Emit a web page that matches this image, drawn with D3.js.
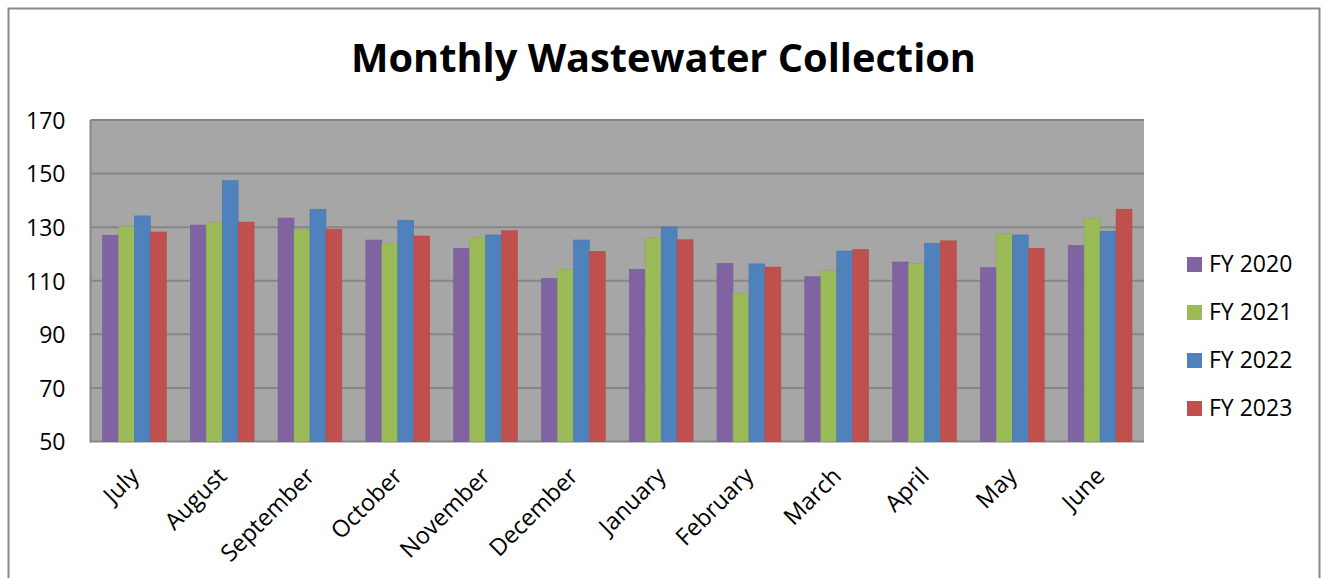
<!DOCTYPE html>
<html>
<head>
<meta charset="utf-8">
<script src="https://cdn.jsdelivr.net/npm/d3@7"></script>
<style>
  body { margin: 0; background: #fff; }
  text { font-family: "Open Sans", sans-serif; fill: #000; }
</style>
</head>
<body>
<svg id="chart" width="1325" height="578"></svg>
<script>
// chart data
var months = ['July', 'August', 'September', 'October', 'November', 'December',
  'January', 'February', 'March', 'April', 'May', 'June'];
var seriesNames = ['FY 2020', 'FY 2021', 'FY 2022', 'FY 2023'];
var fy2020 = [127.0, 130.8, 133.4, 125.2, 122.1, 110.9, 114.3, 116.5, 111.5, 117.0, 114.9, 123.2];
var fy2021 = [130.3, 131.7, 129.0, 124.0, 126.1, 114.3, 126.0, 105.3, 113.8, 116.5, 127.6, 133.3];
var fy2022 = [134.2, 147.4, 136.7, 132.6, 127.1, 125.2, 130.1, 116.3, 121.1, 124.0, 127.1, 128.5];
var fy2023 = [128.2, 131.9, 129.2, 126.7, 128.7, 121.0, 125.3, 115.1, 121.7, 124.9, 122.1, 136.7];
var yTicks = [50, 70, 90, 110, 130, 150, 170];
var colors = ['#8064a2', '#9bbb59', '#4f81bd', '#c0504d'];

var allSeries = [fy2020, fy2021, fy2022, fy2023];

var svg = d3.select('#chart');

// outer chart border (bottom edge falls off the picture)
svg.append('path')
  .attr('d', 'M8.5,580 V8.5 H1319.5 V580')
  .attr('fill', 'none')
  .attr('stroke', '#898989')
  .attr('stroke-width', 2);

var plot = { left: 90.5, right: 1144, top: 120, bottom: 441.5 };

var x = d3.scaleBand().domain(months).range([plot.left, plot.right]);
// excel-style gap width 150%: 4 bars + 1.5 bar gap per category
var barW = x.bandwidth() / 5.5;
var y = d3.scaleLinear().domain([50, 170]).range([plot.bottom, plot.top]);

svg.append('rect')
  .attr('x', plot.left).attr('y', plot.top)
  .attr('width', plot.right - plot.left).attr('height', plot.bottom - plot.top)
  .attr('fill', '#a6a6a6');

// gridlines
svg.append('g').selectAll('line')
  .data(yTicks)
  .join('line')
  .attr('x1', plot.left).attr('x2', plot.right)
  .attr('y1', function(d) { return y(d); })
  .attr('y2', function(d) { return y(d); })
  .attr('stroke', '#868686')
  .attr('stroke-width', 2);

// bars
allSeries.forEach(function(vals, si) {
  svg.append('g').selectAll('rect')
    .data(vals)
    .join('rect')
    .attr('x', function(d, i) { return x(months[i]) + barW * 0.75 + si * barW; })
    .attr('y', function(d) { return y(d); })
    .attr('width', barW)
    .attr('height', function(d) { return plot.bottom - y(d); })
    .attr('fill', colors[si])
    .attr('stroke', d3.color(colors[si]).darker(0.3))
    .attr('stroke-width', 0.5);
});

// left axis line
svg.append('line')
  .attr('x1', plot.left).attr('x2', plot.left)
  .attr('y1', plot.top).attr('y2', plot.bottom + 1)
  .attr('stroke', '#868686').attr('stroke-width', 2);

// y axis labels
var yAxis = d3.axisLeft(y).tickValues(yTicks).tickSize(0).tickPadding(25);
var yg = svg.append('g').attr('transform', 'translate(' + plot.left + ',0)').call(yAxis);
yg.select('.domain').remove();
yg.selectAll('text')
  .attr('font-family', '"Open Sans", sans-serif')
  .attr('font-size', 23)
  .attr('fill', '#000')
  .attr('dy', '0.36em');

// x axis labels, rotated
var xAxis = d3.axisBottom(x).tickSize(0).tickPadding(0);
var xg = svg.append('g').attr('transform', 'translate(0,' + plot.bottom + ')').call(xAxis);
xg.select('.domain').remove();
xg.selectAll('text')
  .attr('font-family', '"Open Sans", sans-serif')
  .attr('font-size', 23.5)
  .attr('fill', '#000')
  .attr('text-anchor', 'end')
  .attr('y', 0).attr('dy', 0)
  .attr('transform', 'translate(6,36) rotate(-45)');

// title, fitted to the reference width
var title = svg.append('text')
  .attr('x', 663.5).attr('y', 72)
  .attr('text-anchor', 'middle')
  .attr('font-weight', 'bold')
  .attr('font-size', 42)
  .text('Monthly Wastewater Collection');
var tw = title.node().getComputedTextLength();
title.attr('font-size', 42 * 625 / tw);

// legend
var legend = svg.append('g').selectAll('g')
  .data(seriesNames)
  .join('g')
  .attr('transform', function(d, i) { return 'translate(1187,' + (264 + i * 48) + ')'; });
legend.append('rect')
  .attr('x', 0).attr('y', -7)
  .attr('width', 15).attr('height', 15)
  .attr('fill', function(d, i) { return colors[i]; });
legend.append('text')
  .attr('x', 22).attr('y', 0).attr('dy', '0.36em')
  .attr('font-size', 23)
  .text(function(d) { return d; });
</script>
</body>
</html>
